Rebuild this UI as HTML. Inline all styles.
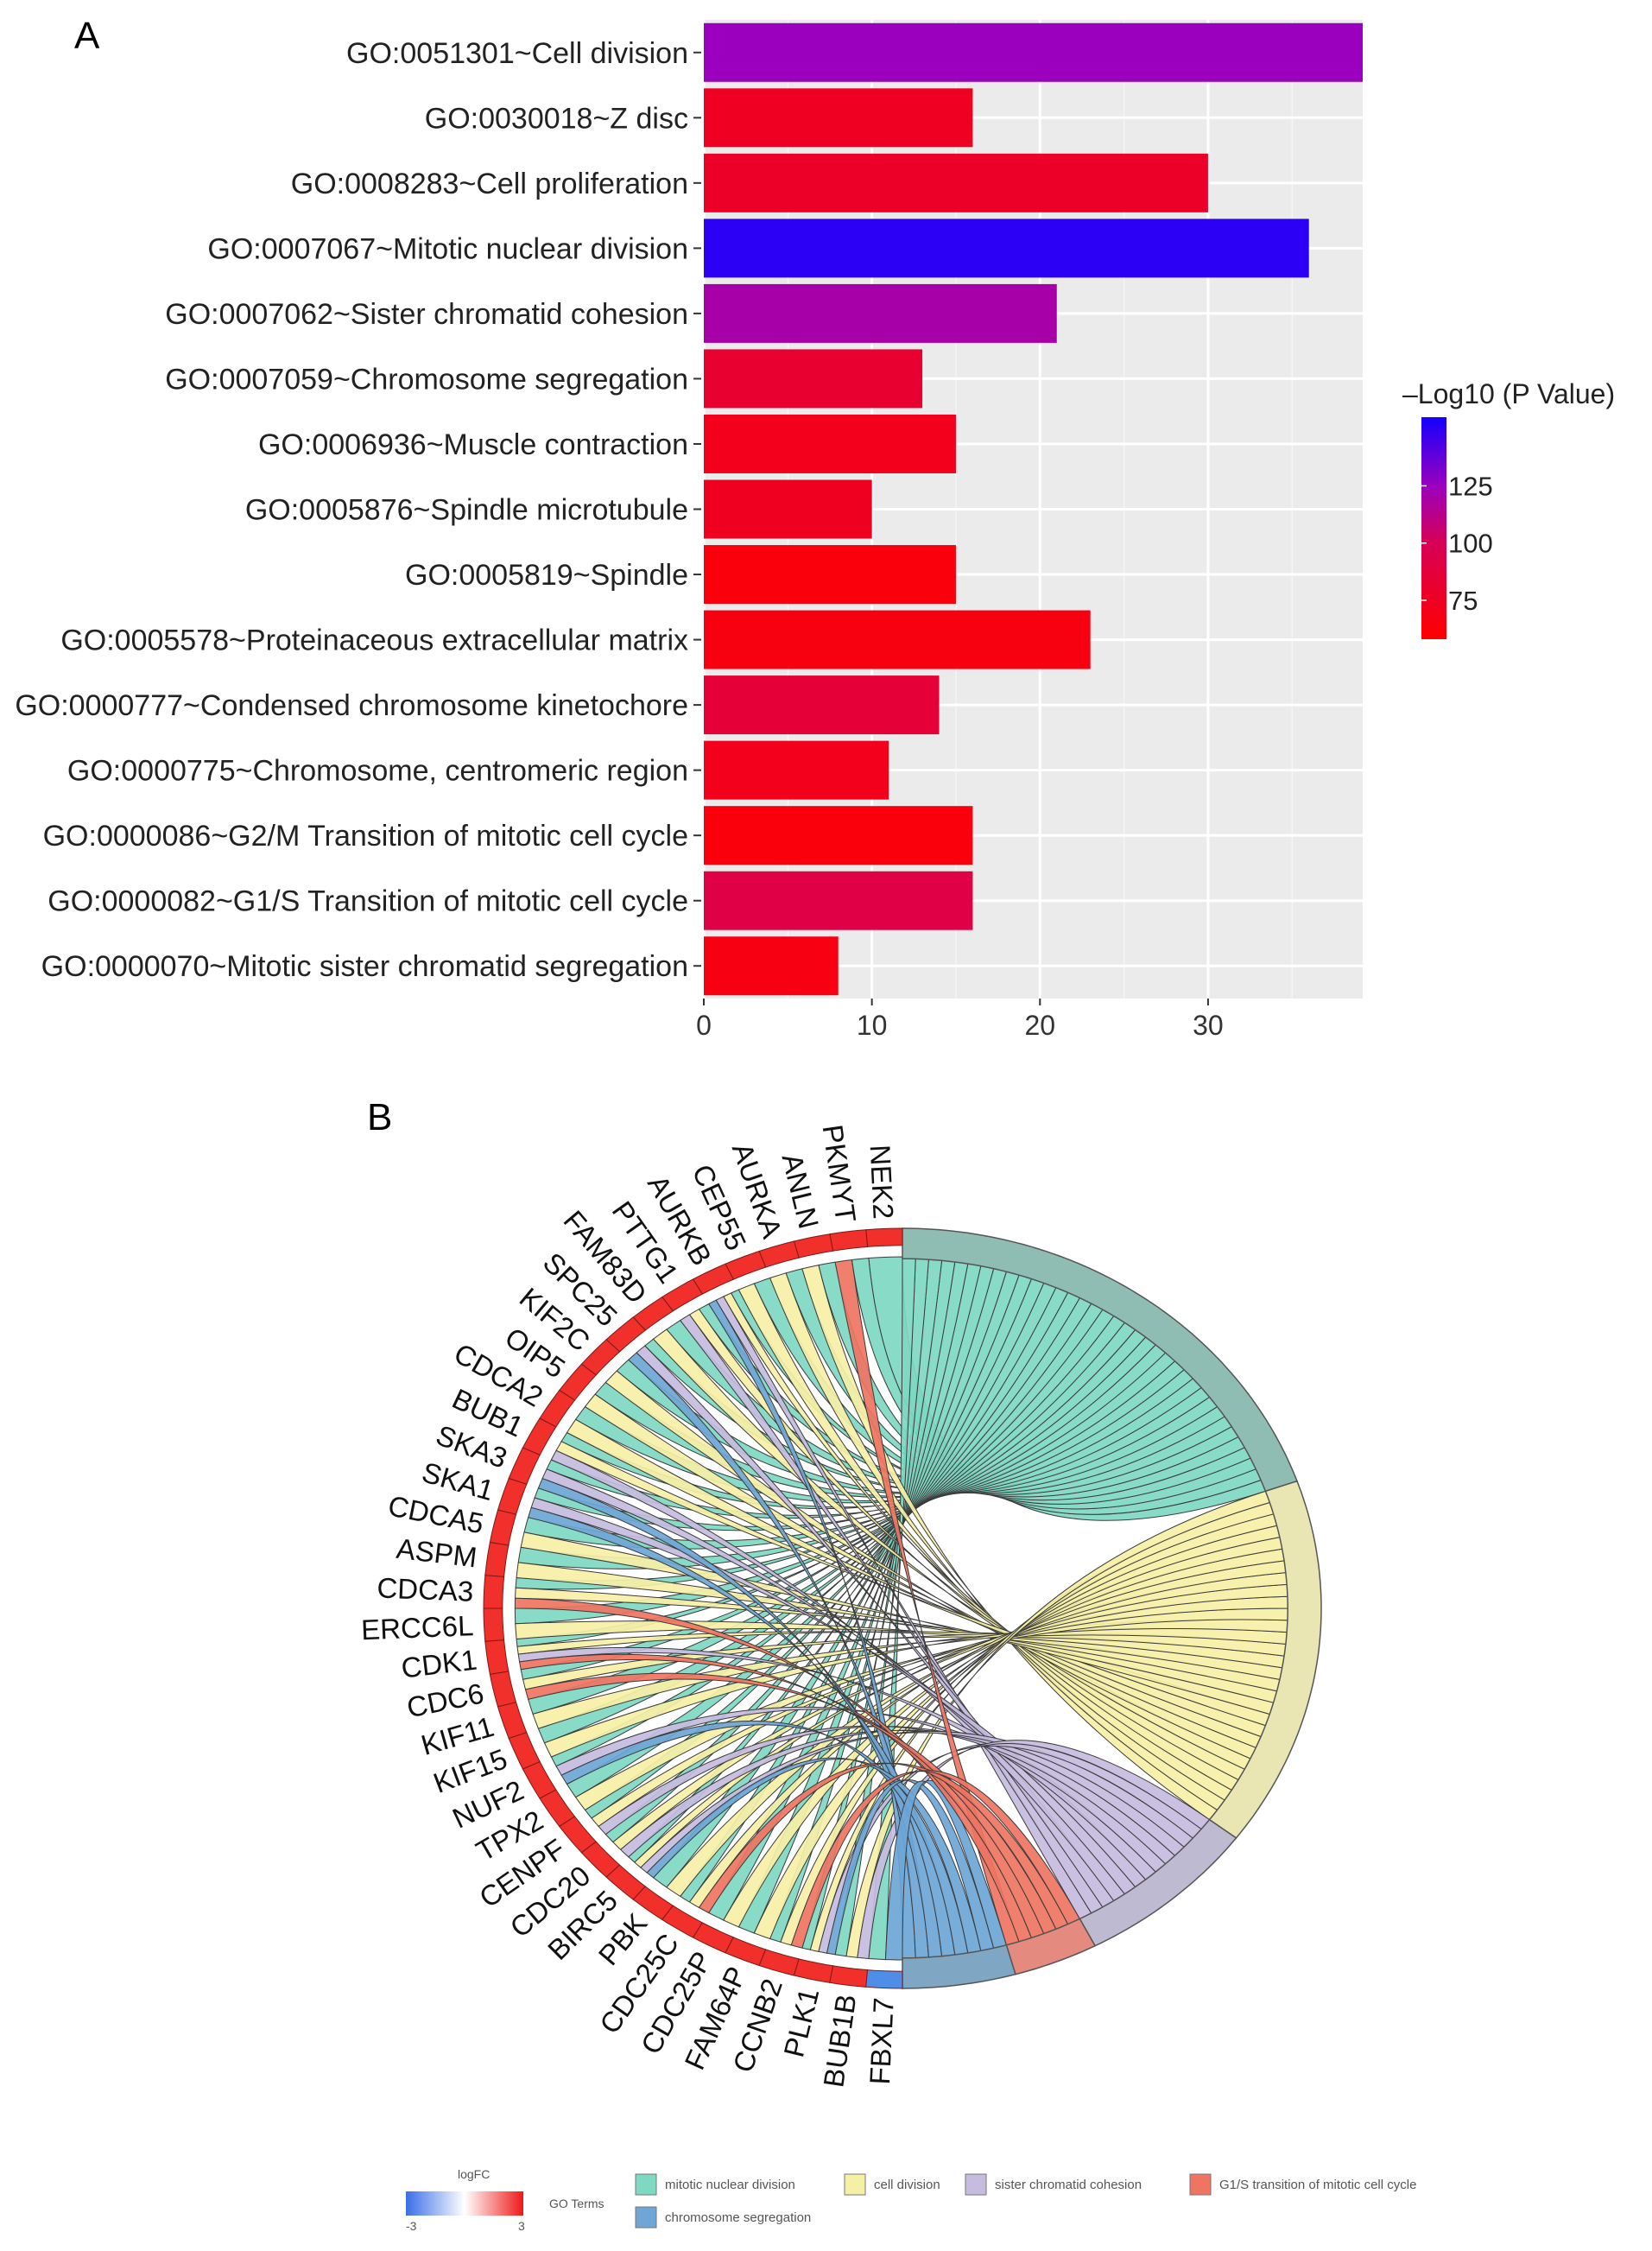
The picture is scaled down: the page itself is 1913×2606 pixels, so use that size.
<!DOCTYPE html>
<html><head><meta charset="utf-8"><style>
html,body{margin:0;padding:0;background:#fff;}
svg{display:block;font-family:"Liberation Sans",Arial,sans-serif;}
</style></head><body>
<svg id="fig" width="1913" height="2606" viewBox="0 0 1913 2606" xmlns="http://www.w3.org/2000/svg">
<text x="86" y="56" font-size="44" fill="#000">A</text>
<text x="425" y="1308" font-size="44" fill="#000">B</text>
<g id="barchart"></g>
<g id="chord"></g>
<g id="legendB"></g>
</svg>
<script>
// ---------- Panel A data ----------
const categories = ["GO:0051301~Cell division","GO:0030018~Z disc","GO:0008283~Cell proliferation","GO:0007067~Mitotic nuclear division","GO:0007062~Sister chromatid cohesion","GO:0007059~Chromosome segregation","GO:0006936~Muscle contraction","GO:0005876~Spindle microtubule","GO:0005819~Spindle","GO:0005578~Proteinaceous extracellular matrix","GO:0000777~Condensed chromosome kinetochore","GO:0000775~Chromosome, centromeric region","GO:0000086~G2/M Transition of mitotic cell cycle","GO:0000082~G1/S Transition of mitotic cell cycle","GO:0000070~Mitotic sister chromatid segregation"];
const counts = [39.2,16,30,36,21,13,15,10,15,23,14,11,16,16,8];
const logP = [125,75,78,150,120,82,72,74,64,66,85,72,64,92,67];
const xTicks = [0,10,20,30];
const cbTicks = [75,100,125];

// ---------- Panel B data ----------
const genes = ["NEK2","PKMYT","ANLN","AURKA","CEP55","AURKB","PTTG1","FAM83D","SPC25","KIF2C","OIP5","CDCA2","BUB1","SKA3","SKA1","CDCA5","ASPM","CDCA3","ERCC6L","CDK1","CDC6","KIF11","KIF15","NUF2","TPX2","CENPF","CDC20","BIRC5","PBK","CDC25C","CDC25P","FAM64P","CCNB2","PLK1","BUB1B","FBXL7"];
const geneLinks = ["T","TR","TY","TY","TY","TYLB","TYL","TY","TLB","TY","TY","TY","TYL","TLB","TLB","TY","TY","TYR","TY","TYLR","TYR","TY","TY","TLB","TY","TYL","TYL","TYLB","TY","TYR","TY","TY","TYR","TYLB","TYL","TB"];
const logFC = [3,3,3,3,3,3,3,3,3,3,3,3,3,3,3,3,3,3,3,3,3,3,3,3,3,3,3,3,3,3,3,3,3,3,3,-3];
const terms = ["T","Y","L","R","B"];
const termNames = ["mitotic nuclear division","cell division","sister chromatid cohesion","G1/S transition of mitotic cell cycle","chromosome segregation"];

const NS="http://www.w3.org/2000/svg";
function mk(tag,attrs,parent){const e=document.createElementNS(NS,tag);for(const k in attrs)e.setAttribute(k,attrs[k]);if(parent)parent.appendChild(e);return e;}

// ---------- Panel A ----------
(function(){
const g=document.getElementById('barchart');
const x0=815,x1=1578,yTop=23,yBot=1156;
const xMax=39.2;
const xs=v=>x0+(v/xMax)*(x1-x0);
const band=(yBot-yTop)/categories.length;
const yc=i=>yTop+band*(i+0.5);
const stops=[[58,[255,0,0]],[100,[215,0,85]],[125,[155,0,190]],[155,[20,0,255]]];
function col(v){for(let i=0;i<stops.length-1;i++){const[a,ca]=stops[i],[b,cb]=stops[i+1];if(v<=b||i==stops.length-2){let t=Math.max(0,Math.min(1,(v-a)/(b-a)));return 'rgb('+ca.map((c,j)=>Math.round(c+(cb[j]-c)*t)).join(',')+')';}}}
const bg=mk('rect',{x:x0,y:yTop,width:x1-x0,height:yBot-yTop,fill:'#ebebeb'},g);


for(let v=5;v<xMax;v+=10){const l=mk('line',{x1:xs(v),x2:xs(v),y1:yTop,y2:yBot,stroke:'#f5f5f5','stroke-width':1.5},g);}
xTicks.forEach(v=>{const l=mk('line',{x1:xs(v),x2:xs(v),y1:yTop,y2:yBot,stroke:'#fff','stroke-width':3},g);});
categories.forEach((c,i)=>{const l=mk('line',{x1:x0,x2:x1,y1:yc(i),y2:yc(i),stroke:'#fff','stroke-width':3},g);});
categories.forEach((c,i)=>{
 const h=band*0.9;
 const r=mk('rect',{x:x0,y:yc(i)-h/2,width:xs(counts[i])-x0,height:h,fill:col(logP[i])},g);
 
 
 const t=mk('text',{x:797,y:yc(i)+12,'text-anchor':'end','font-size':34,fill:'#222'},g);
 t.textContent=c;
 
 
 const tk=mk('line',{x1:803,x2:812,y1:yc(i),y2:yc(i),stroke:'#333','stroke-width':2},g);
 
 
});
xTicks.forEach(v=>{
 const tk=mk('line',{x1:xs(v),x2:xs(v),y1:yBot,y2:yBot+8,stroke:'#333','stroke-width':2},g);
 
 
 const t=mk('text',{x:xs(v),y:yBot+42,'text-anchor':'middle','font-size':32,fill:'#333'},g);
 t.textContent=v;
 
 
});
const cbx=1646,cbw=29,cbTop=483,cbBot=740,cbMin=58,cbMax=155;
const cy=v=>cbBot-(v-cbMin)/(cbMax-cbMin)*(cbBot-cbTop);
const defs=mk('defs',{},g);
const grad=mk('linearGradient',{id:'cbg',x1:0,y1:1,x2:0,y2:0},defs);
stops.forEach(([v,c])=>mk('stop',{offset:((v-cbMin)/(cbMax-cbMin)),'stop-color':'rgb('+c.join(',')+')'},grad));
const cb=mk('rect',{x:cbx,y:cbTop,width:cbw,height:cbBot-cbTop,fill:'url(#cbg)'},g);


const tt=mk('text',{x:1624,y:467,'font-size':32,fill:'#222'},g);
tt.textContent='\u2013Log10 (P Value)';


cbTicks.forEach(v=>{
 const t=mk('text',{x:cbx+cbw+2,y:cy(v)+11,'font-size':31,fill:'#222'},g);
 t.textContent=v;
 
 
 const l=mk('line',{x1:cbx,x2:cbx+6,y1:cy(v),y2:cy(v),stroke:'#fff','stroke-width':1.5},g);
 
 
});
})();

// ---------- Panel B ----------
(function(){
const g=document.getElementById('chord');
const cx=1045,cy=1862,rx=485,ry=440;
const chordCol={T:'#7ed8c2',Y:'#f6f0a6',L:'#c6bce0',R:'#ef7462',B:'#6ea6d6'};
const arcCol={T:'#8fbdb3',Y:'#e9e6b4',L:'#bebad2',R:'#e58a7e',B:'#7fa6c2'};
const P=(r,deg)=>{const a=deg*Math.PI/180;return [cx+rx*r*Math.cos(a),cy-ry*r*Math.sin(a)];};
function arcPath(r,a1,a2){let s='';const n=Math.max(2,Math.ceil(Math.abs(a2-a1)/1));
 for(let i=0;i<=n;i++){const p=P(r,a1+(a2-a1)*i/n);s+=(i?'L':'')+p[0].toFixed(1)+','+p[1].toFixed(1);}return s;}
function ring(r1,r2,a1,a2){const o=arcPath(r2,a1,a2),inn=arcPath(r1,a2,a1);return 'M'+o+'L'+inn+'Z';}
const links=[];
genes.forEach((gn,i)=>{geneLinks[i].split('').forEach(t=>links.push({gi:i,t}));});
const gSpan=180/genes.length;
const termCounts=terms.map(t=>links.filter(l=>l.t===t).length);
const total=links.length;
let a=90;const termStart={};
terms.forEach((t,k)=>{termStart[t]=a;a-=180*termCounts[k]/total;});
genes.forEach((gn,i)=>{
 const ls=links.filter(l=>l.gi===i);
 const a0=90+i*gSpan;
 ls.forEach((l,j)=>{l.g1=a0+gSpan*j/ls.length;l.g2=a0+gSpan*(j+1)/ls.length;});
});
terms.forEach((t,k)=>{
 const ls=links.filter(l=>l.t===t);
 const w=180*termCounts[k]/total/ls.length;
 ls.slice().reverse().forEach((l,j)=>{l.t1=termStart[t]-w*j;l.t2=termStart[t]-w*(j+1);});
});
const order=['T','Y','L','B','R'];
const qc=P(0.0,0);
order.forEach(t=>{
 links.filter(l=>l.t===t).forEach(l=>{
  const rg=0.925,rt=0.92;
  const pc=P(rt,l.t2),pd=P(rg,l.g2);
  let d='M'+arcPath(rg,l.g2,l.g1);
  d+='Q'+qc[0]+','+qc[1]+' '+pc[0].toFixed(1)+','+pc[1].toFixed(1);
  d+='L'+arcPath(rt,l.t2,l.t1);
  d+='Q'+qc[0]+','+qc[1]+' '+pd[0].toFixed(1)+','+pd[1].toFixed(1)+'Z';
  const p=mk('path',{d:d,fill:chordCol[t],stroke:'#3a3a3a','stroke-width':1,'fill-opacity':0.92},g);
  
  
 });
});
terms.forEach((t,k)=>{
 const a1=termStart[t],a2=a1-180*termCounts[k]/total;
 const p=mk('path',{d:ring(0.92,1.0,a1,a2),fill:arcCol[t],stroke:'#555','stroke-width':1.5},g);
 
 
});
genes.forEach((gn,i)=>{
 const a1=90+i*gSpan,a2=a1+gSpan;
 const c=logFC[i]>0?'#f2302b':'#4f8ee8';
 const p=mk('path',{d:ring(0.955,1.0,a1,a2),fill:c,stroke:'#7a1a16','stroke-width':1},g);
 
 
 const m=a1+gSpan/2;const rad=m*Math.PI/180;
 const q=P(1.025,m);
 const dir=Math.atan2(-ry*Math.sin(rad),rx*Math.cos(rad))*180/Math.PI;
 const t=mk('text',{x:q[0],y:q[1],'text-anchor':'end','dominant-baseline':'central','font-size':33,fill:'#111',transform:'rotate('+(dir+180).toFixed(2)+' '+q[0].toFixed(1)+' '+q[1].toFixed(1)+')'},g);
 t.textContent=gn;
 
 
});
})();

// ---------- Panel B legend ----------
(function(){
const g=document.getElementById('legendB');
const defs=mk('defs',{},g);
const gr=mk('linearGradient',{id:'lfc',x1:0,y1:0,x2:1,y2:0},defs);
mk('stop',{offset:0,'stop-color':'#3a6ee8'},gr);mk('stop',{offset:0.5,'stop-color':'#ffffff'},gr);mk('stop',{offset:1,'stop-color':'#f01818'},gr);
const r=mk('rect',{x:470,y:2537,width:136,height:28,fill:'url(#lfc)'},g);


const lbl=[["logFC",530,2522,"logfc-title"],["-3",470,2582,"logfc-min"],["3",600,2582,"logfc-max"],["GO Terms",636,2556,"go-terms-title"]];
lbl.forEach(([s,x,y,n])=>{const t=mk('text',{x:x,y:y,'font-size':14,fill:'#555'},g);t.textContent=s;});
const items=[[736,2517,'#7ed8c2'],[978,2517,'#f6f0a6'],[1118,2517,'#c6bce0'],[1378,2517,'#ef7462'],[736,2555,'#6ea6d6']];
items.forEach(([x,y,c],k)=>{
 const b=mk('rect',{x:x,y:y,width:24,height:24,fill:c,stroke:'#777','stroke-width':1},g);
 
 
 const t=mk('text',{x:x+34,y:y+17,'font-size':15,fill:'#555'},g);
 t.textContent=termNames[k];
 
 
});
})();
</script>
</body></html>
